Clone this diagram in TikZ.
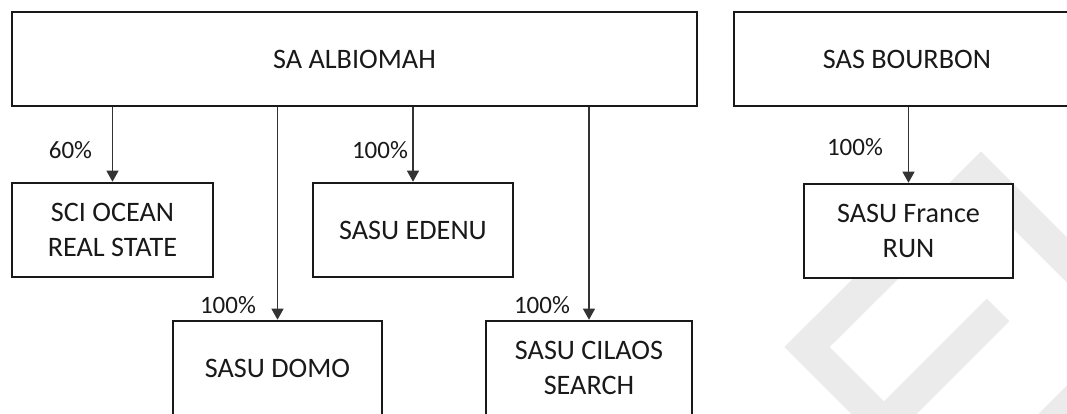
\documentclass[tikz,border=0pt]{standalone}
\usepackage{fontspec}
\setmainfont{Carlito}
\usetikzlibrary{arrows.meta}

\tikzset{
  company/.style={draw=black!90, line width=2.6pt, fill=white, minimum height=94pt,
    inner sep=0pt, align=center, text=black!90, font=\fontsize{28.2}{35}\selectfont},
  share/.style={inner sep=0pt, text=black!90, font=\fontsize{25}{30}\selectfont},
  own/.style={draw=black!80, line width=1.1pt, -{Triangle[length=11pt,width=12pt]}},
  logo/.style={draw=black!8, line width=32pt}
}

\begin{document}
\begin{tikzpicture}[x=1pt,y=-1pt]
\useasboundingbox (0,0) rectangle (1067,413);
\clip (0,0) rectangle (1067,413);

% Watermark behind the boxes
\draw[logo] (998,310) -- (884,424) -- (807,347) -- (981,174) -- (1141,334) -- (1000,475);

% Parent companies
\node[company, minimum width=685pt] (albiomah) at (354.5,59) {SA ALBIOMAH};
\node[company, minimum width=346pt] (bourbon) at (907,59) {SAS BOURBON};

% Subsidiaries, first row
\node[company, minimum width=201pt] (ocean) at (112.5,230) {SCI OCEAN\\REAL STATE};
\node[company, minimum width=200pt] (edenu) at (413,230) {SASU EDENU};
\node[company, minimum width=209pt] (france) at (908.5,231) {SASU France\\RUN};

% Subsidiaries, second row
\node[company, minimum width=209pt] (domo) at (277.5,368) {SASU DOMO};
\node[company, minimum width=206pt] (cilaos) at (589,368) {SASU CILAOS\\SEARCH};

% Holdings
\draw[own] (albiomah.south -| ocean.north) -- (ocean.north);
\draw[own] (albiomah.south -| domo.north) -- (domo.north);
\draw[own] (albiomah.south -| edenu.north) -- (edenu.north);
\draw[own] (albiomah.south -| cilaos.north) -- (cilaos.north);
\draw[own] (bourbon.south -| france.north) -- (france.north);

% Percentages
\node[share] (pocean) at (70.5,150) {60\%};
\node[share] (pedenu) at (380,150) {100\%};
\node[share] (pdomo) at (228,305) {100\%};
\node[share] (pcilaos) at (542,305) {100\%};
\node[share] (pfrance) at (855,147) {100\%};
\end{tikzpicture}
\end{document}
